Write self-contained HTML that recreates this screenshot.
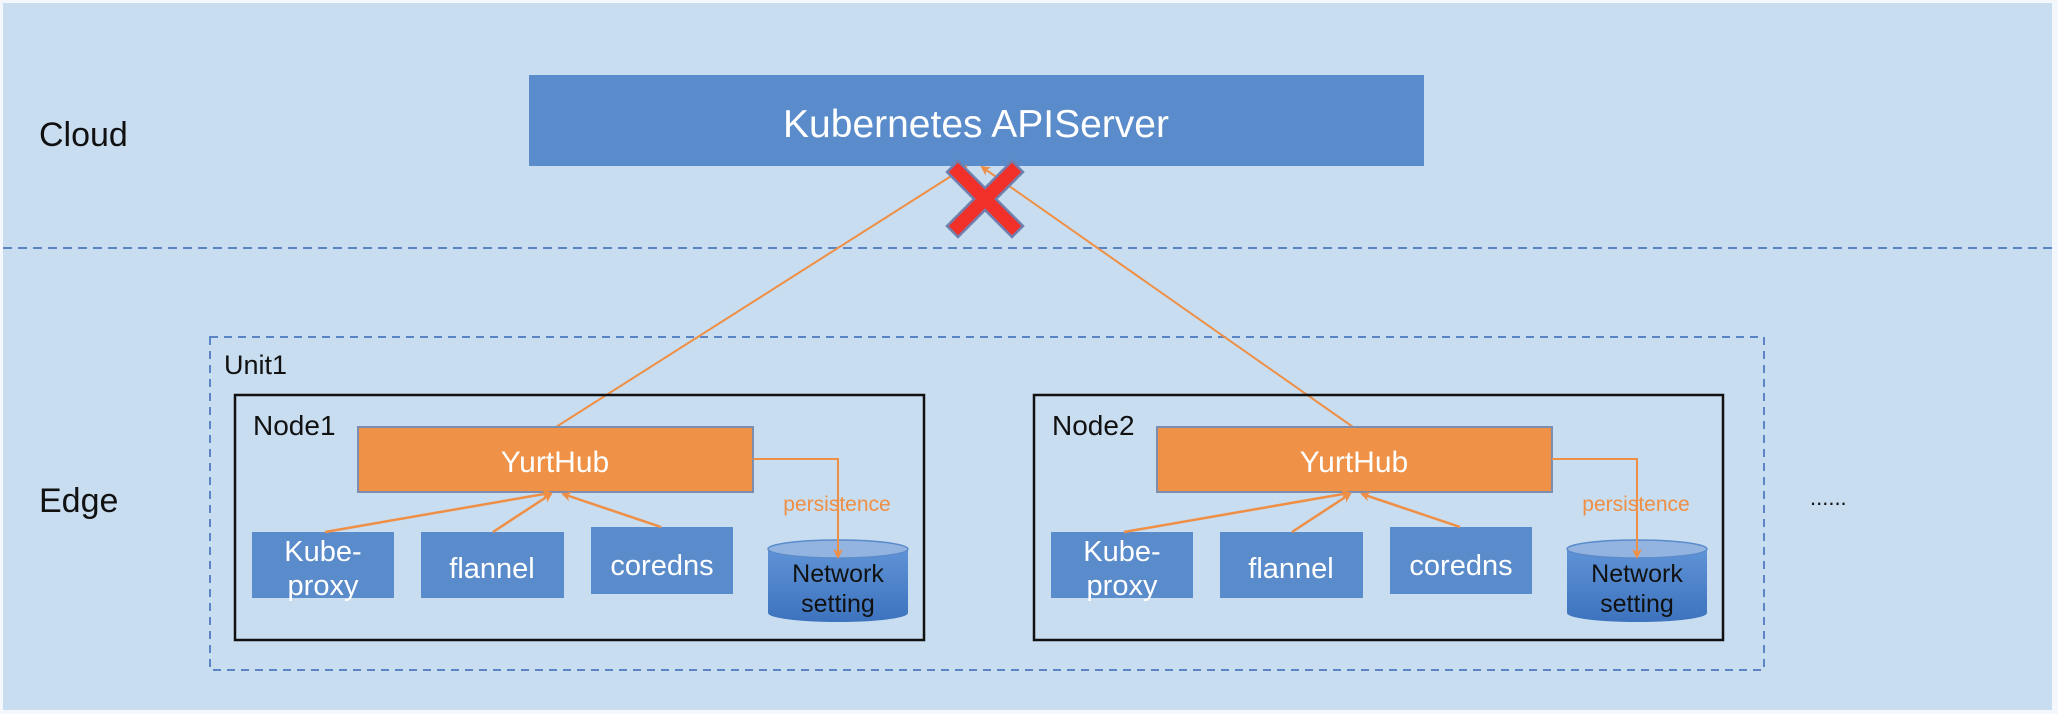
<!DOCTYPE html>
<html><head><meta charset="utf-8"><style>
html,body{margin:0;padding:0;background:#f4f8fc;}
svg{display:block;font-family:"Liberation Sans",Arial,sans-serif;}
</style></head><body>
<svg width="2058" height="714" viewBox="0 0 2058 714" xmlns="http://www.w3.org/2000/svg">
<defs>
<marker id="ah" markerWidth="10" markerHeight="10" refX="8" refY="5" orient="auto" markerUnits="userSpaceOnUse">
<path d="M0,0 L10,5 L0,10 L3,5 z" fill="#ef8f45"/>
</marker>
<linearGradient id="cyl" x1="0" y1="0" x2="0" y2="1">
<stop offset="0" stop-color="#5f93d6"/><stop offset="1" stop-color="#3d73be"/>
</linearGradient>
</defs>
<rect x="3" y="3" width="2049" height="707" fill="#c8ddf0"/>
<line x1="3" y1="248" x2="2052" y2="248" stroke="#5b84c4" stroke-width="2" stroke-dasharray="9,6"/>
<text x="39" y="146" font-size="34" fill="#111">Cloud</text>
<text x="39" y="512" font-size="34" fill="#111">Edge</text>
<rect x="529" y="75" width="895" height="91" fill="#5a8bcb"/>
<text x="976" y="137" font-size="39" fill="#fff" text-anchor="middle">Kubernetes APIServer</text>
<rect x="210" y="337" width="1554" height="333" fill="none" stroke="#5b84c4" stroke-width="2" stroke-dasharray="8,6"/>
<text x="224" y="374" font-size="27" fill="#111">Unit1</text>

<line x1="556" y1="427" x2="967" y2="166" stroke="#ef8f45" stroke-width="2"/>
<line x1="1353" y1="427" x2="982" y2="167" stroke="#ef8f45" stroke-width="2" marker-end="url(#ah)"/>
<g stroke="#6f7fae" stroke-width="18" stroke-linecap="square">
<line x1="958" y1="172" x2="1012" y2="226"/><line x1="1012" y1="172" x2="958" y2="226"/>
</g>
<g stroke="#f2302a" stroke-width="13" stroke-linecap="square">
<line x1="958" y1="172" x2="1012" y2="226"/><line x1="1012" y1="172" x2="958" y2="226"/>
</g>

<g id="node1">
<rect x="235" y="395" width="689" height="245" fill="none" stroke="#111" stroke-width="2.5"/>
<rect x="358" y="427" width="395" height="65" fill="#ef9146" stroke="#7d8db0" stroke-width="2"/>
<text x="555" y="472" font-size="30" fill="#fff" text-anchor="middle">YurtHub</text>
<rect x="252" y="532" width="142" height="66" fill="#5a8bcb"/>
<text x="323" y="561" font-size="29" fill="#fff" text-anchor="middle">Kube-</text>
<text x="323" y="595" font-size="29" fill="#fff" text-anchor="middle">proxy</text>
<rect x="421" y="532" width="143" height="66" fill="#5a8bcb"/>
<text x="492" y="578" font-size="29" fill="#fff" text-anchor="middle">flannel</text>
<rect x="591" y="527" width="142" height="67" fill="#5a8bcb"/>
<text x="662" y="575" font-size="29" fill="#fff" text-anchor="middle">coredns</text>
<line x1="325" y1="532" x2="550" y2="493" stroke="#ef8f45" stroke-width="2.5" marker-end="url(#ah)"/>
<line x1="493" y1="532" x2="551" y2="494" stroke="#ef8f45" stroke-width="2.5" marker-end="url(#ah)"/>
<line x1="661" y1="527" x2="563" y2="494" stroke="#ef8f45" stroke-width="2.5" marker-end="url(#ah)"/>
<path d="M768,549 L768,613 A70,9 0 0 0 908,613 L908,549 z" fill="url(#cyl)"/>
<ellipse cx="838" cy="549" rx="70" ry="9" fill="#93b3e0" stroke="#5a8bcb" stroke-width="1.5"/>
<text x="838" y="582" font-size="25" fill="#111" text-anchor="middle">Network</text>
<text x="838" y="612" font-size="25" fill="#111" text-anchor="middle">setting</text>
<polyline points="753,459 838,459 838,557" fill="none" stroke="#ef8f45" stroke-width="2" marker-end="url(#ah)"/>
<text x="837" y="511" font-size="21" fill="#ef8f45" text-anchor="middle">persistence</text>
</g>
<use href="#node1" transform="translate(799,0)"/>
<text x="253" y="435" font-size="28" fill="#111">Node1</text>
<text x="1052" y="435" font-size="28" fill="#111">Node2</text>
<text x="1810" y="505" font-size="22" fill="#111">......</text>
</svg>
</body></html>
